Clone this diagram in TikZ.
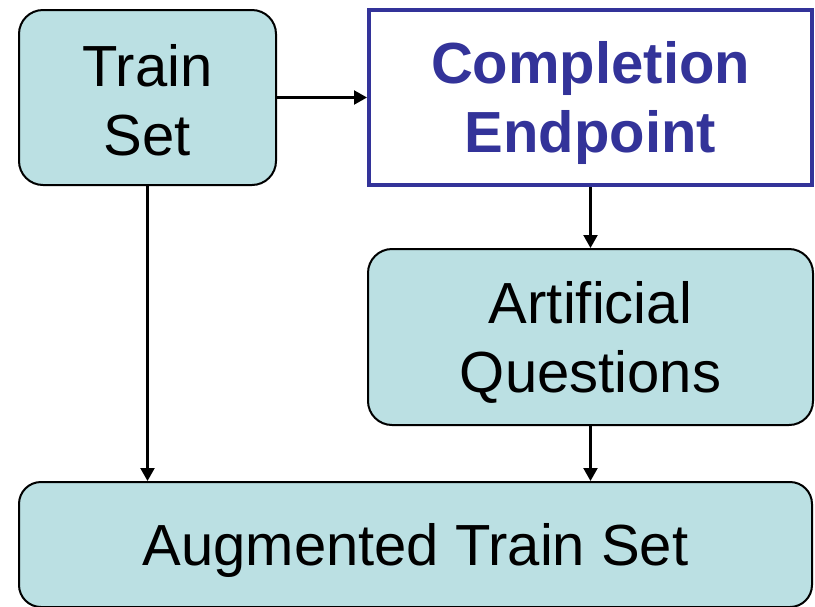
\documentclass[tikz,border=0pt]{standalone}
\usepackage{fontspec}
\setmainfont{Liberation Sans}
\usetikzlibrary{arrows.meta}
\definecolor{boxfill}{RGB}{187,224,227}
\definecolor{epblue}{RGB}{51,51,153}
\begin{document}
\begin{tikzpicture}[x=1pt,y=-1pt,
  tealbox/.style={draw=black,line width=2pt,fill=boxfill,rounded corners=24pt,inner sep=0pt},
  epbox/.style={draw=epblue,line width=4pt,fill=white,inner sep=0pt},
  boxtext/.style={inner sep=0pt,align=center,font=\fontsize{58}{69}\selectfont},
  eptext/.style={boxtext,text=epblue,font=\fontsize{58}{69}\selectfont\bfseries},
  conn/.style={line width=2.2pt,-{Triangle[length=13pt,width=14pt]}}]
\useasboundingbox (0,0) rectangle (815,606);
\node[tealbox,minimum width=257pt,minimum height=175pt] (train) at (147.5,97.5) {};
\node[epbox,minimum width=443pt,minimum height=175pt] (comp) at (590.5,97.5) {};
\node[tealbox,minimum width=445pt,minimum height=176pt] (art) at (590.5,337) {};
\node[tealbox,minimum width=793pt,minimum height=125pt,rounded corners=22pt] (aug) at (415.5,544.5) {};
\node[boxtext] (traintext) at ([yshift=-3pt]train.center) {Train\\Set};
\node[eptext] (comptext) at ([yshift=-5pt]comp.center) {Completion\\Endpoint};
\node[boxtext] (arttext) at ([yshift=-5pt]art.center) {Artificial\\Questions};
\node[boxtext] (augtext) at ([yshift=-6pt]aug.center) {Augmented Train Set};
\draw[conn] (train.east) -- (comp.west);
\draw[conn] (comp.south) -- (art.north);
\draw[conn] (art.south) -- (art.south |- aug.north);
\draw[conn] (train.south) -- (train.south |- aug.north);
\end{tikzpicture}
\end{document}
